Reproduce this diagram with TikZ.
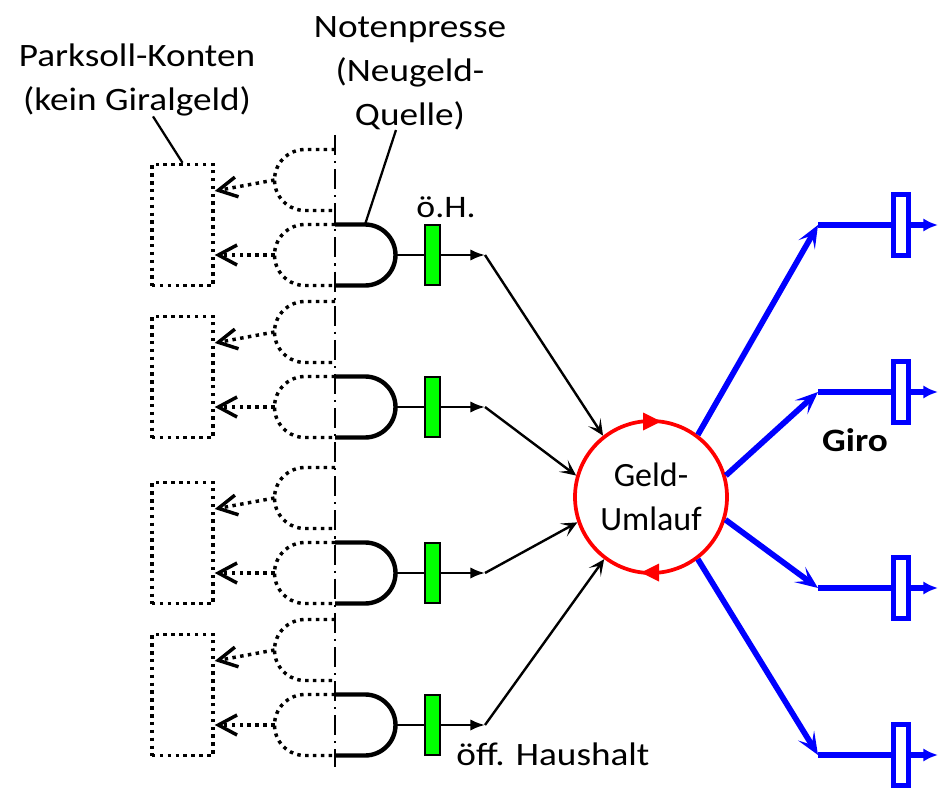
\documentclass[tikz,border=0pt]{standalone}
\usepackage{fontspec}
\setmainfont{Carlito}
\newfontfamily\widefont{Carlito}[FakeStretch=1.14]
\usepackage{tikz}
\usetikzlibrary{arrows.meta,calc}
\definecolor{giroblue}{HTML}{0000FF}
\definecolor{ringred}{HTML}{FF0000}
\definecolor{bargreen}{HTML}{00FF00}
\tikzset{
  axisline/.style={black, line width=1.6pt, dash pattern=on 15pt off 4.5pt on 1.6pt off 4.5pt},
  gateline/.style={black, line width=3.3pt},
  gatedotted/.style={black, line width=2.6pt, dash pattern=on 2.6pt off 3.3pt},
  parkbox/.style={draw=black, line width=2.6pt, dash pattern=on 2.6pt off 3.3pt, minimum width=45.75pt, minimum height=90.75pt, inner sep=0pt},
  parkarrow/.style={gatedotted, -{Straight Barb[length=14pt, width=15pt]}},
  greenbar/.style={draw=black, line width=1.3pt, fill=bargreen, minimum width=11.25pt, minimum height=45pt, inner sep=0pt},
  barline/.style={black, line width=1.8pt},
  flow/.style={black, line width=1.8pt, -{Latex[length=11pt, width=8.5pt]}},
  feed/.style={black, line width=1.8pt, -{Stealth[length=12pt, width=11pt, inset=6pt]}},
  leader/.style={black, line width=1.7pt},
  umlaufring/.style={circle, draw=ringred, line width=2.8pt, minimum size=114pt, inner sep=0pt, align=center, font=\fontsize{25.5}{33}\selectfont},
  giroarrow/.style={giroblue, line width=4.3pt, -{Stealth[length=17pt, width=14pt, inset=8pt]}},
  giroline/.style={giroblue, line width=4.3pt},
  giroout/.style={giroblue, line width=4.3pt, -{Latex[length=11pt, width=10pt]}},
  girobox/.style={draw=giroblue, line width=4pt, fill=white, minimum width=11pt, minimum height=46pt, inner sep=0pt},
  widelabel/.style={font=\widefont\fontsize{24.5}{33}\selectfont, align=center, inner sep=0pt}
}
\begin{document}
\begin{tikzpicture}[x=0.75pt, y=-0.75pt]
  \useasboundingbox (0,0) rectangle (951,792);
  \coordinate (axtop) at (335,135);
  \coordinate (axbot) at (335,767);
  \draw[axisline] (axtop) -- (axbot);
  \foreach \i/\y in {1/255,2/407,3/573,4/725}{
    \draw[gatedotted] (335,\y-105.5) -- (305,\y-105.5) arc[start angle=-90, end angle=-270, radius=30.5] -- (335,\y-44.5);
    \draw[gatedotted] (335,\y-30.5) -- (305,\y-30.5) arc[start angle=-90, end angle=-270, radius=30.5] -- (335,\y+30.5);
    \draw[gateline] (335,\y-30.5) -- (365,\y-30.5) arc[start angle=-90, end angle=90, radius=30.5] -- (335,\y+30.5);
    \coordinate (gatetop\i) at (365,\y-30.5);
    \coordinate (gatetip\i) at (395.5,\y);
    \coordinate (uppark\i) at (274.5,\y-75);
    \coordinate (lowpark\i) at (274.5,\y);
    \node[parkbox] (park\i) at (182.5,\y-30) {};
    \draw[parkarrow] (uppark\i) -- ([yshift=25.5pt]park\i.east);
    \draw[parkarrow] (lowpark\i) -- ([yshift=-22.5pt]park\i.east);
    \node[greenbar] (bar\i) at (432.5,\y) {};
    \coordinate (join\i) at (485,\y);
    \draw[barline] (gatetip\i) -- (bar\i);
    \draw[flow] (bar\i) -- (join\i);
  }
  \node[umlaufring] (umlauf) at (651,497) {Geld-\\Umlauf};
  \fill[ringred] ($(umlauf.center)+(10,-75.5)$) -- ++(-18,-9) -- ++(0,18) -- cycle;
  \fill[ringred] ($(umlauf.center)+(-10,75.5)$) -- ++(18,-9) -- ++(0,18) -- cycle;
  \foreach \i/\a in {1/128,2/164,3/199,4/233}
    \draw[feed] (join\i) -- (umlauf.\a);
  \foreach \i/\y/\a in {1/225/53,2/392/16,3/588/343,4/755/307}{
    \coordinate (girojoin\i) at (818,\y);
    \node[girobox] (girobox\i) at (901,\y) {};
    \coordinate (giroend\i) at (938,\y);
    \draw[giroarrow] (umlauf.\a) -- (girojoin\i);
    \draw[giroline] (girojoin\i) -- (girobox\i);
    \draw[giroout] (girobox\i) -- (giroend\i);
  }
  \node[widelabel] (parklabel) at (137,80) {Parksoll-Konten\\(kein Giralgeld)};
  \node[widelabel] (presselabel) at (410,73) {Notenpresse\\(Neugeld-\\Quelle)};
  \draw[leader] ([xshift=12pt]parklabel.south) -- (park1.north);
  \draw[leader] ([xshift=-10.5pt]presselabel.south) -- (gatetop1);
  \node[widelabel, font=\widefont\fontsize{23.5}{28}\selectfont] (ohlabel) at (446,207) {ö.H.};
  \node[widelabel] (hhlabel) at (553,754) {öff. Haushalt};
  \node[widelabel, font=\widefont\bfseries\fontsize{24.5}{33}\selectfont] (girolabel) at (855,440) {Giro};
\end{tikzpicture}
\end{document}
